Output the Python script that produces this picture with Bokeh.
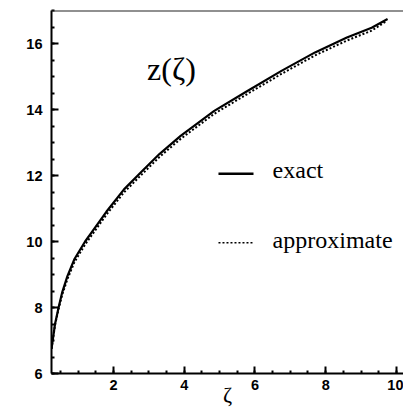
from bokeh.plotting import figure
from bokeh.models import Range1d, Label, Span, SingleIntervalTicker
from bokeh.embed import file_html
from bokeh.resources import INLINE

# exact and approximate solution z(zeta)
zeta = [0.25, 0.35, 0.45, 0.55, 0.7, 0.9, 1.2, 1.4, 1.8, 2.3, 2.8, 3.3, 3.9,
        4.85, 5.8, 6.75, 7.7, 8.6, 9.3, 9.75]
z_exact = [6.75, 7.5, 8.0, 8.45, 8.95, 9.47, 10.0, 10.3, 10.9, 11.58, 12.12,
           12.65, 13.2, 13.96, 14.57, 15.17, 15.73, 16.18, 16.48, 16.74]
zeta_approx = [0.25, 0.35, 0.45, 0.55, 0.7, 0.9, 1.2, 1.4, 1.8, 2.3, 2.8, 3.3,
               3.9, 4.85, 5.8, 6.75, 7.7, 8.6, 9.3, 9.72]
z_approx = [6.75, 7.47, 7.95, 8.38, 8.86, 9.38, 9.91, 10.21, 10.81, 11.49,
            12.03, 12.56, 13.11, 13.87, 14.48, 15.08, 15.64, 16.09, 16.39, 16.68]

legend_labels = ["exact", "approximate"]

p = figure(width=403, height=409, output_backend="svg", toolbar_location=None,
           x_range=Range1d(0.25, 10.2), y_range=Range1d(6, 17),
           min_border_left=51, min_border_right=0, min_border_top=10,
           min_border_bottom=36)
p.outline_line_color = None
p.grid.grid_line_color = None
p.background_fill_color = "white"

p.xaxis.ticker = SingleIntervalTicker(interval=2, num_minor_ticks=4)
p.yaxis.ticker = SingleIntervalTicker(interval=2, num_minor_ticks=4)
for ax in (p.xaxis, p.yaxis):
    ax.axis_line_width = 2
    ax.axis_line_color = "black"
    ax.major_tick_in = 7
    ax.major_tick_out = 0
    ax.minor_tick_in = 3
    ax.minor_tick_out = 0
    ax.major_tick_line_width = 2
    ax.minor_tick_line_width = 2
    ax.major_tick_line_color = "black"
    ax.minor_tick_line_color = "black"
    ax.major_label_text_font = "Liberation Sans"
    ax.major_label_text_font_style = "bold"
    ax.major_label_text_font_size = "14.5px"
    ax.major_label_text_color = "black"
p.xaxis.major_label_standoff = 6
p.yaxis.major_label_standoff = 9

p.xaxis.axis_label = "ζ"
p.xaxis.axis_label_text_font = "Liberation Serif"
p.xaxis.axis_label_text_font_style = "normal"
p.xaxis.axis_label_text_font_size = "22px"
p.xaxis.axis_label_text_color = "black"
p.xaxis.axis_label_standoff = -11

# top frame line
p.add_layout(Span(location=17, dimension="width", line_color="#222222",
                  line_width=2))

p.line(zeta, z_exact, line_color="black", line_width=2.2)
p.line(zeta_approx, z_approx, line_color="black", line_width=2,
       line_dash="2 2")

# legend drawn by hand
p.line([4.97, 5.96], [12.05, 12.05], line_color="black", line_width=2.5)
p.line([4.97, 5.96], [9.96, 9.96], line_color="black", line_width=1.5,
       line_dash="2 2")
p.add_layout(Label(x=6.5, y=12.16, text=legend_labels[0],
                   text_font="Liberation Serif", text_font_size="24px",
                   text_color="black",
                   text_baseline="alphabetic", text_align="left"))
p.add_layout(Label(x=6.5, y=10.05, text=legend_labels[1],
                   text_font="Liberation Serif", text_font_size="24px",
                   text_color="black",
                   text_baseline="alphabetic", text_align="left"))

p.add_layout(Label(x=2.95, y=15.23, text="z(ζ)",
                   text_font="Liberation Serif", text_font_size="32px",
                   text_color="black",
                   text_baseline="alphabetic", text_align="left"))

open("out.html", "w").write(file_html(p, INLINE))
